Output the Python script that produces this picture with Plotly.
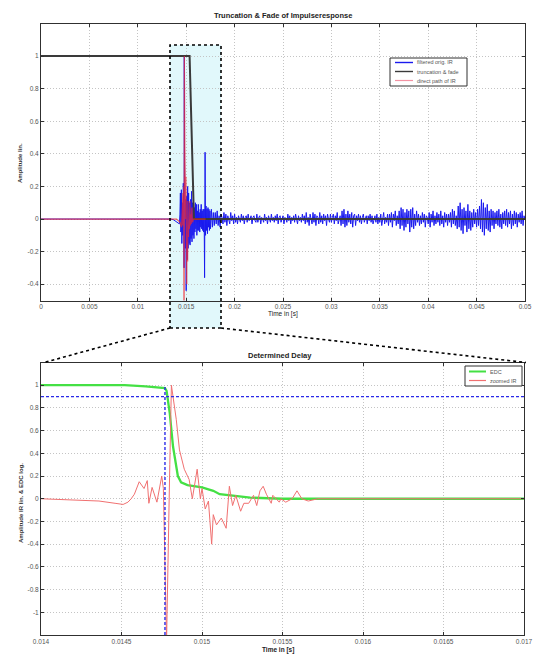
import plotly.graph_objects as go

# ---------------- data ----------------
# top plot: filtered original IR (early part, irregular samples)
ir_early_t = [0.0, 0.0134, 0.0137, 0.0140, 0.0142, 0.0143, 0.01435, 0.0144, 0.01445, 0.0145,
              0.01455, 0.0146, 0.01465, 0.0147, 0.01475, 0.01478, 0.0148, 0.01483, 0.01487, 0.0149,
              0.01495, 0.0150, 0.01505, 0.0151, 0.01515, 0.0152, 0.01525, 0.0153, 0.01535, 0.0154,
              0.01545, 0.0155, 0.01555, 0.0156, 0.01565, 0.0157, 0.01575, 0.0158, 0.01585, 0.0159,
              0.01595, 0.0160, 0.01605, 0.0161, 0.01615, 0.0162, 0.01625, 0.0163, 0.01635, 0.0164,
              0.01645, 0.0165, 0.01655, 0.0166, 0.01665, 0.0167, 0.01675, 0.0168, 0.01685, 0.0169,
              0.01695, 0.0170, 0.01705, 0.0171, 0.01715, 0.0172, 0.01725, 0.0173, 0.01735, 0.0174,
              0.01745, 0.0175, 0.0176, 0.0177, 0.0178, 0.0179]
ir_early_v = [0.0, 0.0, -0.005, -0.015, -0.025, -0.03, 0.03, 0.16, -0.08, 0.18,
              -0.15, 0.10, -0.10, 0.22, 0.05, -0.30, 1.0, 0.35, 0.15, -0.18,
              0.12, -0.44, 0.14, -0.25, 0.20, -0.18, 0.16, -0.15, 0.10, -0.16,
              0.12, -0.12, 0.17, -0.14, 0.10, -0.10, 0.12, -0.12, 0.07, -0.08,
              0.10, -0.06, 0.09, -0.10, 0.05, -0.07, 0.09, -0.07, 0.04, -0.08,
              0.06, -0.05, 0.09, -0.06, 0.05, -0.07, 0.06, -0.08, 0.06, -0.36,
              0.41, -0.10, 0.08, -0.07, 0.06, -0.09, 0.07, -0.05, 0.06, -0.07,
              0.05, -0.06, 0.06, -0.05, 0.04, -0.04]

# top plot: noise tail of the IR, sampled every 0.1 ms from 18 ms to 50 ms
tail_start = 0.018
tail_step = 0.0001
tail_v = [
    0.04, -0.03, 0.05, -0.04, 0.02, -0.05, 0.03, 0.01, -0.03, 0.04,
    -0.02, 0.03, -0.04, 0.02, 0.00, -0.03, 0.04, -0.01, 0.02, -0.03,
    0.03, -0.02, 0.01, -0.03, 0.02, 0.00, -0.02, 0.03, -0.01, 0.02,
    -0.03, 0.01, 0.02, -0.02, 0.03, -0.01, 0.00, 0.02, -0.03, 0.01,
    0.02, -0.01, -0.02, 0.03, -0.02, 0.01, 0.02, -0.03, 0.01, 0.00,
    -0.02, 0.03, -0.01, 0.01, -0.03, 0.02, 0.00, -0.02, 0.03, -0.01,
    0.01, -0.02, 0.02, -0.01, 0.03, -0.03, 0.01, 0.02, -0.02, 0.00,
    0.02, -0.03, 0.01, 0.00, -0.02, 0.03, -0.01, 0.02, -0.03, 0.01,
    -0.01, 0.02, -0.02, 0.03, 0.00, -0.03, 0.02, -0.01, 0.01, -0.02,
    0.03, -0.01, 0.02, -0.03, 0.04, -0.02, 0.01, -0.04, 0.03, 0.00,
    -0.03, 0.04, -0.02, 0.03, -0.04, 0.02, 0.01, -0.03, 0.04, -0.02,
    0.02, -0.03, 0.03, -0.01, 0.02, -0.04, 0.03, 0.00, -0.02, 0.03,
    -0.02, 0.01, 0.03, -0.03, 0.02, -0.01, 0.04, -0.03, 0.01, 0.02,
    -0.04, 0.05, -0.03, 0.06, -0.05, 0.03, -0.04, 0.05, -0.02, 0.03,
    -0.03, 0.04, -0.05, 0.02, 0.03, -0.04, 0.02, -0.01, 0.03, -0.02,
    0.02, -0.03, 0.01, 0.03, -0.02, 0.00, 0.02, -0.03, 0.02, -0.01,
    0.03, -0.02, 0.02, -0.03, 0.01, 0.02, -0.02, 0.03, -0.03, 0.01,
    -0.02, 0.03, -0.04, 0.02, 0.04, -0.03, 0.01, -0.02, 0.03, -0.04,
    0.03, -0.02, 0.04, -0.05, 0.03, -0.01, 0.05, -0.04, 0.02, -0.03,
    0.05, -0.06, 0.07, -0.04, 0.06, -0.07, 0.04, -0.05, 0.06, -0.03,
    0.05, -0.08, 0.06, -0.05, 0.07, -0.06, 0.03, -0.04, 0.05, -0.02,
    0.03, -0.04, 0.02, -0.03, 0.04, -0.02, 0.03, -0.05, 0.02, 0.01,
    -0.03, 0.04, -0.05, 0.03, -0.02, 0.05, -0.04, 0.02, -0.03, 0.04,
    -0.02, 0.03, -0.04, 0.05, -0.03, 0.02, -0.05, 0.04, -0.02, 0.03,
    -0.04, 0.03, -0.02, 0.04, -0.05, 0.06, -0.03, 0.05, -0.04, 0.02,
    -0.06, 0.08, -0.05, 0.10, -0.07, 0.06, -0.09, 0.07, -0.04, 0.05,
    -0.08, 0.09, -0.06, 0.05, -0.07, 0.04, -0.05, 0.06, -0.03, 0.04,
    -0.05, 0.06, -0.04, 0.08, -0.06, 0.12, -0.08, 0.10, -0.10, 0.07,
    -0.06, 0.09, -0.07, 0.05, -0.08, 0.06, -0.04, 0.05, -0.06, 0.04,
    -0.03, 0.05, -0.04, 0.06, -0.05, 0.03, -0.06, 0.04, -0.03, 0.05,
    -0.04, 0.06, -0.05, 0.04, -0.03, 0.05, -0.06, 0.03, -0.04, 0.05,
    -0.03, 0.04, -0.05, 0.03, -0.02, 0.04, -0.03, 0.05, -0.04, 0.02,
    0.0]

# top plot: truncation & fade window
fade_t = [0.0, 0.01535, 0.0158, 0.05]
fade_v = [1.0, 1.0, 0.0, 0.0]

# bottom plot: zoomed IR (also the direct path in the top plot)
zir_t = [0.0140, 0.01418, 0.01436, 0.01446, 0.01451, 0.01454, 0.01456, 0.01458, 0.01461, 0.01464,
         0.01466, 0.01467, 0.01469, 0.01472, 0.01475, 0.01476, 0.01478, 0.01480, 0.01481, 0.01484,
         0.01486, 0.01489, 0.01492, 0.01494, 0.01497, 0.01499, 0.01500, 0.01502, 0.01504, 0.01506,
         0.01507, 0.01509, 0.01512, 0.01515, 0.01517, 0.01519, 0.01521, 0.01524, 0.01526, 0.01529,
         0.01532, 0.01534, 0.01536, 0.01538, 0.01540, 0.01543, 0.01544, 0.01548, 0.01549, 0.01552,
         0.01556, 0.01559, 0.01562, 0.01566, 0.01570, 0.01572, 0.0170]
zir_v = [0.0, -0.01, -0.02, -0.04, -0.05, -0.03, 0.0, 0.04, 0.15, 0.09,
         0.16, -0.04, 0.10, -0.03, 0.20, 0.09, -1.25, 0.3, 1.0, 0.70,
         0.43, 0.26, 0.17, 0.0, 0.26, 0.0, 0.09, -0.09, -0.02, -0.40,
         -0.14, -0.23, -0.17, -0.26, 0.11, -0.06, 0.03, -0.11, -0.04, -0.04,
         0.03, -0.06, 0.07, 0.11, 0.04, -0.04, 0.03, -0.03, 0.0, -0.03,
         0.0, 0.07, 0.0, -0.02, -0.01, 0.0, 0.0]

# bottom plot: energy decay curve
edc_t = [0.0140, 0.01452, 0.01465, 0.01474, 0.01477, 0.01478, 0.01479, 0.01480, 0.01482, 0.01485,
         0.01487, 0.01491, 0.01500, 0.01507, 0.01511, 0.01517, 0.01530, 0.01550, 0.0170]
edc_v = [1.0, 1.0, 0.99, 0.98, 0.975, 0.95, 0.86, 0.75, 0.46, 0.20,
         0.145, 0.12, 0.10, 0.07, 0.04, 0.03, 0.01, 0.0, 0.0]

# bottom plot: determined delay markers
delay_time = 0.01477
threshold = 0.9

top_xticks = [0, 0.005, 0.01, 0.015, 0.02, 0.025, 0.03, 0.035, 0.04, 0.045, 0.05]
top_xlabels = ["0", "0.005", "0.01", "0.015", "0.02", "0.025", "0.03", "0.035", "0.04", "0.045", "0.05"]
top_yticks = [-0.4, -0.2, 0, 0.2, 0.4, 0.6, 0.8, 1]
top_ylabels = ["-0.4", "-0.2", "0", "0.2", "0.4", "0.6", "0.8", "1"]
bot_xticks = [0.014, 0.0145, 0.015, 0.0155, 0.016, 0.0165, 0.017]
bot_xlabels = ["0.014", "0.0145", "0.015", "0.0155", "0.016", "0.0165", "0.017"]
bot_yticks = [-1, -0.8, -0.6, -0.4, -0.2, 0, 0.2, 0.4, 0.6, 0.8, 1]
bot_ylabels = ["-1", "-0.8", "-0.6", "-0.4", "-0.2", "0", "0.2", "0.4", "0.6", "0.8", "1"]

top_legend = ["filtered orig. IR", "truncation & fade", "direct path of IR"]
bot_legend = ["EDC", "zoomed IR"]

# ---------------- figure ----------------
W, H = 535, 655
FONT = "Liberation Sans, Arial, sans-serif"

C_IR = "#1a1aee"
C_FADE = "#3a3a3a"
C_DP = "rgba(240,40,50,0.75)"
C_EDC = "#44e044"
C_ZIR = "#f07070"
C_DLY = "#2a2ae8"

tail_t = [round(tail_start + i * tail_step, 6) for i in range(len(tail_v))]
ir_t = ir_early_t + tail_t
ir_v = ir_early_v + tail_v

fig = go.Figure()

fig.add_trace(go.Scatter(x=ir_t, y=ir_v, mode="lines", name=top_legend[0],
                         line=dict(color=C_IR, width=1.0), xaxis="x", yaxis="y"))
fig.add_trace(go.Scatter(x=fade_t, y=fade_v, mode="lines", name=top_legend[1],
                         line=dict(color=C_FADE, width=2), xaxis="x", yaxis="y"))
fig.add_trace(go.Scatter(x=[0.0] + zir_t, y=[0.0] + zir_v, mode="lines", name=top_legend[2],
                         line=dict(color=C_DP, width=1.2), xaxis="x", yaxis="y"))

fig.add_trace(go.Scatter(x=edc_t, y=edc_v, mode="lines", name=bot_legend[0],
                         line=dict(color=C_EDC, width=2.3), xaxis="x2", yaxis="y2"))
fig.add_trace(go.Scatter(x=zir_t, y=zir_v, mode="lines", name=bot_legend[1],
                         line=dict(color=C_ZIR, width=1), xaxis="x2", yaxis="y2"))
fig.add_trace(go.Scatter(x=[bot_xticks[0], bot_xticks[-1]], y=[threshold, threshold], mode="lines",
                         line=dict(color=C_DLY, width=1.2, dash="3px,2px"),
                         xaxis="x2", yaxis="y2"))
fig.add_trace(go.Scatter(x=[delay_time, delay_time], y=[-1.2, 1.0], mode="lines",
                         line=dict(color=C_DLY, width=1.4, dash="3px,2px"),
                         xaxis="x2", yaxis="y2"))

# layout geometry (pixels)
axL = 41
topR, botR = 525, 524
top_t, top_b = 23.5, 300.5
bot_t, bot_b = 362.5, 635


def px2x(p):
    return p / W


def px2y(p):
    return 1 - p / H


axis_common = dict(showline=True, mirror="ticks", linecolor="#303030", linewidth=1,
                   ticks="inside", ticklen=3, tickcolor="#303030", showgrid=True,
                   gridcolor="#c4c4c4", griddash="1px,2px", gridwidth=1, zeroline=False,
                   automargin=False,
                   tickfont=dict(family=FONT, size=6.5, color="#555555"))

fig.update_layout(
    width=W, height=H, margin=dict(l=0, r=0, t=0, b=0, autoexpand=False),
    paper_bgcolor="white", plot_bgcolor="rgba(0,0,0,0)",
    font=dict(family=FONT, size=7, color="#222222"),
    showlegend=False,
    xaxis=dict(domain=[px2x(axL), px2x(topR)], range=[0, 0.05], tickvals=top_xticks,
               ticktext=top_xlabels, anchor="y", **axis_common),
    yaxis=dict(domain=[px2y(top_b), px2y(top_t)], range=[-0.5, 1.2], tickvals=top_yticks,
               ticktext=top_ylabels, anchor="x", **axis_common),
    xaxis2=dict(domain=[px2x(axL), px2x(botR)], range=[0.014, 0.017], tickvals=bot_xticks,
                ticktext=bot_xlabels, anchor="y2", **axis_common),
    yaxis2=dict(domain=[px2y(bot_b), px2y(bot_t)], range=[-1.2, 1.2], tickvals=bot_yticks,
                ticktext=bot_ylabels, anchor="x2", **axis_common),
)

# zoom box highlighting the region shown below
box_l, box_r, box_t, box_b = 170, 221, 45, 328
fig.add_shape(type="rect", xref="paper", yref="paper",
              x0=px2x(box_l), x1=px2x(box_r), y0=px2y(box_b), y1=px2y(box_t),
              fillcolor="rgba(215,245,250,0.75)", line=dict(width=0), layer="below")
fig.add_shape(type="rect", xref="paper", yref="paper",
              x0=px2x(box_l), x1=px2x(box_r), y0=px2y(box_b), y1=px2y(box_t),
              line=dict(color="black", width=1.6, dash="dot"), layer="above")
fig.add_shape(type="line", xref="paper", yref="paper",
              x0=px2x(box_l), y0=px2y(box_b), x1=px2x(axL + 3), y1=px2y(bot_t),
              line=dict(color="black", width=1.6, dash="dot"))
fig.add_shape(type="line", xref="paper", yref="paper",
              x0=px2x(box_r), y0=px2y(box_b), x1=px2x(botR + 2), y1=px2y(bot_t),
              line=dict(color="black", width=1.6, dash="dot"))


# custom compact legends (MATLAB style)
def draw_legend(x0, y0, x1, y1, rows, names, styles, sample_x0, sample_x1, text_x):
    fig.add_shape(type="rect", xref="paper", yref="paper",
                  x0=px2x(x0), x1=px2x(x1), y0=px2y(y1), y1=px2y(y0),
                  fillcolor="white", line=dict(color="#303030", width=1), layer="above")
    for ry, nm, st in zip(rows, names, styles):
        fig.add_shape(type="line", xref="paper", yref="paper",
                      x0=px2x(sample_x0), x1=px2x(sample_x1), y0=px2y(ry), y1=px2y(ry),
                      line=st, layer="above")
        fig.add_annotation(text=nm, x=px2x(text_x), y=px2y(ry), xref="paper", yref="paper",
                           showarrow=False, xanchor="left", yanchor="middle",
                           font=dict(family=FONT, size=5.5, color="#555555"))


draw_legend(390, 58, 467, 86, [62.5, 71.5, 80.5], top_legend,
            [dict(color=C_IR, width=1.4), dict(color=C_FADE, width=1.4),
             dict(color="rgba(240,120,140,0.8)", width=1.2)],
            395, 413, 415)
draw_legend(465, 366, 522, 386, [371.5, 380.5], bot_legend,
            [dict(color=C_EDC, width=2), dict(color=C_ZIR, width=1.2)],
            469, 486, 488)

ann = [
    dict(text="<b>Truncation &amp; Fade of Impulseresponse</b>", x=px2x((axL + topR) / 2), y=px2y(16),
         size=7.5),
    dict(text="Time in [s]", x=px2x(283), y=px2y(314), size=6.5),
    dict(text="<b>Determined Delay</b>", x=px2x(280), y=px2y(355), size=7.5),
    dict(text="<b>Time in [s]</b>", x=px2x(278), y=px2y(650), size=6.5),
]
for a in ann:
    fig.add_annotation(text=a["text"], x=a["x"], y=a["y"], xref="paper", yref="paper",
                       showarrow=False, xanchor="center", yanchor="middle",
                       font=dict(family=FONT, size=a["size"], color="#222222"))

fig.add_annotation(text="<b>Amplitude lin.</b>", x=px2x(20), y=px2y(163), xref="paper", yref="paper",
                   showarrow=False, textangle=-90, xanchor="center", yanchor="middle",
                   font=dict(family=FONT, size=6, color="#333333"))
fig.add_annotation(text="<b>Amplitude IR lin. &amp; EDC log.</b>", x=px2x(21), y=px2y(503),
                   xref="paper", yref="paper", showarrow=False, textangle=-90,
                   xanchor="center", yanchor="middle",
                   font=dict(family=FONT, size=6, color="#333333"))

fig.write_html("out.html")
